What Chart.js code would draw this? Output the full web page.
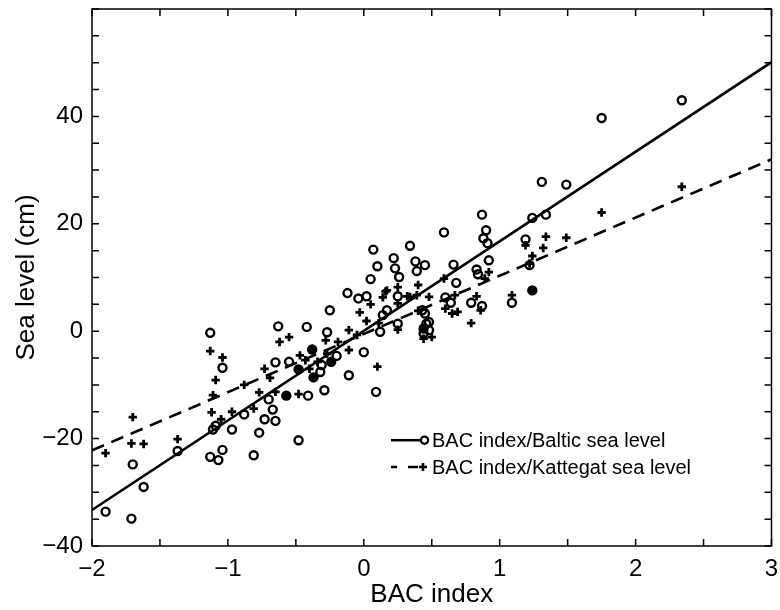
<!DOCTYPE html>
<html>
<head>
<meta charset="utf-8">
<script src="https://cdn.jsdelivr.net/npm/chart.js@4.4.1/dist/chart.umd.min.js"></script>
<style>
html, body { margin: 0; padding: 0; background: #fff; }
</style>
</head>
<body>
<canvas id="chart" width="780" height="610"></canvas>
<script>
// BAC index vs Baltic sea level (open circles)
const balticX = [-1.90, -1.71, -1.70, -1.62, -1.37, -1.13, -1.07, -1.04, -1.11, -1.09,
  -0.97, -0.88, -0.81, -0.77, -0.73, -0.70, -0.67, -0.65, -0.48, -0.41,
  -1.13, -1.04, -0.63, -0.65, -0.55, -0.42, -0.27, -0.25, -0.12, -0.04,
  0.02, -0.32, -0.31, -0.20, -0.29, -0.11, 0.00, 0.09, 0.12, 0.14,
  0.17, 0.25, 0.25, 0.43, 0.48, 0.48, 0.07, 0.34, 0.22, 0.10,
  0.23, 0.26, 0.05, 0.38, 0.45, 0.39, 1.31, 1.49, 0.87, 1.24,
  1.34, 0.59, 0.90, 0.88, 0.91, 1.19, 0.92, 0.66, 0.83, 0.84,
  1.22, 0.68, 0.60, 0.64, 0.79, 0.87, 1.09, 0.45, 0.46, 0.44,
  1.75, 2.34];
const balticY = [-33.6, -34.9, -24.8, -29.0, -22.3, -23.4, -24.0, -22.1, -18.3, -17.6,
  -18.3, -15.5, -23.1, -18.9, -16.4, -12.7, -14.6, -16.7, -20.3, -12.0,
  -0.3, -6.8, 0.9, -5.8, -5.7, 0.8, -0.2, 3.9, 7.1, 6.1,
  6.5, -7.6, -6.3, -4.6, -11.0, -8.2, -3.9, -11.3, -0.1, 3.0,
  3.9, 1.4, 6.5, 3.9, 1.7, 0.2, 15.2, 15.9, 13.6, 12.1,
  11.7, 10.1, 9.7, 13.0, 12.3, 11.2, 27.8, 27.3, 21.7, 21.1,
  21.7, 18.4, 18.8, 17.3, 16.4, 17.1, 13.2, 12.4, 11.5, 10.6,
  12.3, 9.0, 6.3, 5.3, 5.3, 4.7, 5.3, 3.3, 1.4, -0.4,
  39.7, 43.0];

// where a circle and a cross fall together the mark prints solid
const overlapX = [-0.57, -0.38, -0.48, -0.37, -0.24, 0.44, 1.24];
const overlapY = [-12.0, -3.4, -7.1, -8.6, -5.7, 0.5, 7.6];

// BAC index vs Kattegat sea level (crosses)
const kattegatX = [-1.90, -1.70, -1.71, -1.62, -1.37, -1.11, -1.12, -1.05, -0.97, -0.88,
  -0.81, -0.77, -0.65, -0.48, -1.09, -1.13, -1.04, -0.73, -0.69, -0.62,
  -0.55, 0.16, 0.05, -0.03, 0.02, 0.11, -0.11, -0.05, -0.19, -0.11,
  0.10, 0.25, 0.32, 0.39, 0.40, 0.50, 0.44, 0.25, -0.47, -0.43,
  -0.34, -0.27, 0.40, 0.25, 0.17, 0.14, 0.48, 0.34, 1.75, 1.34,
  1.49, 1.32, 1.24, 1.22, 1.19, 0.92, 0.89, 0.60, 0.67, 0.65,
  0.69, 0.79, 0.83, 1.09, 0.86, 0.59, 2.34, -0.28, -0.40];
const kattegatY = [-22.7, -16.0, -20.9, -21.0, -20.1, -11.9, -15.1, -16.4, -15.0, -10.0,
  -14.4, -11.4, -11.3, -11.7, -9.1, -3.7, -4.9, -7.0, -8.7, -2.0,
  -1.1, 7.4, 5.0, 3.5, 1.9, 1.5, 0.2, -0.7, -2.0, -3.5,
  -6.6, 5.2, 6.5, 6.7, 3.8, -1.1, -1.4, 0.3, -4.5, -5.4,
  -5.7, -4.2, 8.6, 8.2, 7.6, 6.3, 6.4, 6.4, 22.1, 17.6,
  17.4, 15.5, 14.0, 12.6, 16.0, 11.0, 9.8, 4.2, 6.7, 3.3,
  3.6, 1.5, 6.5, 6.7, 3.9, 9.8, 26.9, -1.7, -7.0];

// regression lines, end points
const fitX = [-2, 3];
const balticFitY = [-33.3, 50.1];
const kattegatFitY = [-22.2, 32.0];

const legendLabels = ["BAC index/Baltic sea level", "BAC index/Kattegat sea level"];

const FONT = "'Liberation Sans', Arial, Helvetica, sans-serif";
const pts = (xs, ys) => xs.map((x, i) => ({ x, y: ys[i] }));
const fmt = (v) => (v < 0 ? "\u2212" + Math.abs(v) : String(v));

const frameTicks = {
  id: "frameTicks",
  afterDatasetsDraw(chart) {
    const { ctx, chartArea: a, scales } = chart;
    const len = 7;
    ctx.save();
    ctx.strokeStyle = "#000";
    ctx.lineWidth = 1.5;
    ctx.strokeRect(a.left, a.top, a.right - a.left, a.bottom - a.top);
    ctx.beginPath();
    scales.x.ticks.forEach((t) => {
      const px = scales.x.getPixelForValue(t.value);
      ctx.moveTo(px, a.bottom);
      ctx.lineTo(px, a.bottom - len);
      ctx.moveTo(px, a.top);
      ctx.lineTo(px, a.top + len);
    });
    scales.y.ticks.forEach((t) => {
      const py = scales.y.getPixelForValue(t.value);
      ctx.moveTo(a.left, py);
      ctx.lineTo(a.left + len, py);
      ctx.moveTo(a.right, py);
      ctx.lineTo(a.right - len, py);
    });
    ctx.stroke();
    ctx.restore();
  },
};

const insideLegend = {
  id: "insideLegend",
  afterDraw(chart) {
    const { ctx, chartArea: a } = chart;
    const w = a.right - a.left;
    const h = a.bottom - a.top;
    const x0 = a.left + w * 0.44;
    const rows = [a.top + h * 0.803, a.top + h * 0.853];
    ctx.save();
    ctx.strokeStyle = "#000";
    ctx.fillStyle = "#000";
    ctx.lineWidth = 2.5;
    // solid sample with circle
    ctx.beginPath();
    ctx.moveTo(x0, rows[0]);
    ctx.lineTo(x0 + 29, rows[0]);
    ctx.stroke();
    ctx.lineWidth = 2.3;
    ctx.beginPath();
    ctx.arc(x0 + 33.5, rows[0], 3.6, 0, Math.PI * 2);
    ctx.stroke();
    // dashed sample with cross
    ctx.lineWidth = 2.6;
    ctx.setLineDash([6, 11, 10, 50]);
    ctx.beginPath();
    ctx.moveTo(x0, rows[1]);
    ctx.lineTo(x0 + 27, rows[1]);
    ctx.stroke();
    ctx.setLineDash([]);
    ctx.beginPath();
    ctx.moveTo(x0 + 28, rows[1]);
    ctx.lineTo(x0 + 36, rows[1]);
    ctx.moveTo(x0 + 32, rows[1] - 4);
    ctx.lineTo(x0 + 32, rows[1] + 4);
    ctx.stroke();
    ctx.font = "20px " + FONT;
    ctx.textBaseline = "middle";
    ctx.fillText(legendLabels[0], x0 + 41, rows[0] + 1);
    ctx.fillText(legendLabels[1], x0 + 41, rows[1] + 1);
    ctx.restore();
  },
};

new Chart(document.getElementById("chart"), {
  type: "scatter",
  data: {
    datasets: [
      {
        type: "line",
        data: pts(fitX, balticFitY),
        borderColor: "#000",
        borderWidth: 2.6,
        pointRadius: 0,
        fill: false,
      },
      {
        type: "line",
        data: pts(fitX, kattegatFitY),
        borderColor: "#000",
        borderWidth: 2.6,
        borderDash: [13, 8],
        pointRadius: 0,
        fill: false,
      },
      {
        data: pts(balticX, balticY),
        pointStyle: "circle",
        pointRadius: 4,
        pointBorderWidth: 2.4,
        pointBorderColor: "#000",
        pointBackgroundColor: "rgba(0,0,0,0)",
      },
      {
        data: pts(kattegatX, kattegatY),
        pointStyle: "cross",
        pointRadius: 4.2,
        pointBorderWidth: 2.8,
        pointBorderColor: "#000",
      },
      {
        data: pts(overlapX, overlapY),
        pointStyle: "circle",
        pointRadius: 5.2,
        pointBorderWidth: 0,
        pointBackgroundColor: "#000",
      },
    ],
  },
  options: {
    responsive: false,
    animation: false,
    layout: { padding: { top: 9, right: 8.5, left: 0, bottom: 0 } },
    plugins: {
      legend: { display: false },
      tooltip: { enabled: false },
    },
    scales: {
      x: {
        type: "linear",
        min: -2,
        max: 3,
        grid: { display: false, drawTicks: false },
        border: { display: false },
        afterFit: (s) => {
          s.height = 64;
          s.paddingLeft = 0;
          s.paddingRight = 0;
        },
        ticks: {
          stepSize: 0.5,
          autoSkip: false,
          maxRotation: 0,
          padding: 9,
          color: "#000",
          font: { family: FONT, size: 24 },
          callback: (v) => (Number.isInteger(v) ? fmt(v) : ""),
        },
        title: {
          display: true,
          text: "BAC index",
          color: "#000",
          font: { family: FONT, size: 26 },
          padding: { top: 0, bottom: 0 },
        },
      },
      y: {
        type: "linear",
        min: -40,
        max: 60,
        grid: { display: false, drawTicks: false },
        border: { display: false },
        afterFit: (s) => {
          s.width = 92;
          s.paddingTop = 0;
          s.paddingBottom = 0;
        },
        ticks: {
          stepSize: 5,
          autoSkip: false,
          padding: 9,
          color: "#000",
          font: { family: FONT, size: 24 },
          callback: (v) => (v % 20 === 0 && v < 60 ? fmt(v) : ""),
        },
        title: {
          display: true,
          text: "Sea level (cm)",
          color: "#000",
          font: { family: FONT, size: 26 },
          padding: { top: 11, bottom: 0 },
        },
      },
    },
  },
  plugins: [frameTicks, insideLegend],
});
</script>
</body>
</html>
